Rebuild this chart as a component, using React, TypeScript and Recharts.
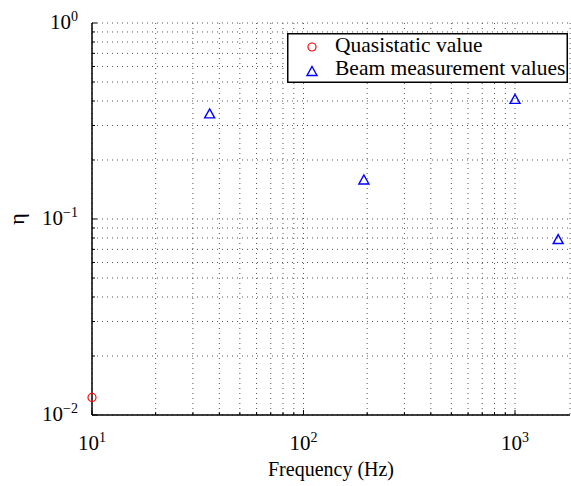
import { CartesianGrid, Legend, Scatter, ScatterChart, XAxis, YAxis } from 'recharts';

// loss factor vs. frequency
const quasiFreq = [10];
const quasiEta = [0.0123];
const beamFreq = [36, 193, 1000, 1600];
const beamEta = [0.346, 0.159, 0.41, 0.079];

const seriesNames = ['Quasistatic value', 'Beam measurement values'];

const freqTicks = [
  10, 20, 30, 40, 50, 60, 70, 80, 90,
  100, 200, 300, 400, 500, 600, 700, 800, 900, 1000,
];
const freqMajor = [10, 100, 1000];
const freqExp = ['1', '2', '3'];

const etaTicks = [
  0.01, 0.02, 0.03, 0.04, 0.05, 0.06, 0.07, 0.08, 0.09,
  0.1, 0.2, 0.3, 0.4, 0.5, 0.6, 0.7, 0.8, 0.9, 1,
];
const etaMajor = [0.01, 0.1, 1];
const etaExp = ['\u22122', '\u22121', '0'];

const FONT = '"Liberation Serif", "Times New Roman", serif';

const quasiData = quasiFreq.map((f, i) => ({ f, eta: quasiEta[i] }));
const beamData = beamFreq.map((f, i) => ({ f, eta: beamEta[i] }));

const makeXTick = (top: boolean) => (props: any) => {
  const { x, y, payload } = props;
  const i = freqMajor.indexOf(payload.value);
  const len = i >= 0 ? 5 : 3;
  return (
    <g>
      <line x1={x} x2={x} y1={y} y2={top ? y + len : y - len} stroke="#000" />
      {!top && i >= 0 && (
        <text x={x} y={y + 35} textAnchor="middle" fontFamily={FONT} fontSize={21} fill="#000">
          10
          <tspan dy={-8} fontSize={14}>
            {freqExp[i]}
          </tspan>
        </text>
      )}
    </g>
  );
};

const YTick = (props: any) => {
  const { x, y, payload } = props;
  const i = etaMajor.indexOf(payload.value);
  const len = i >= 0 ? 5 : 3;
  return (
    <g>
      <line x1={x} x2={x + len} y1={y} y2={y} stroke="#000" />
      {i >= 0 && (
        <text x={x - 14} y={y + 6} textAnchor="end" fontFamily={FONT} fontSize={21} fill="#000">
          10
          <tspan dy={-8} fontSize={14}>
            {etaExp[i]}
          </tspan>
        </text>
      )}
    </g>
  );
};

const Ring = (p: any) => (
  <circle cx={p.cx} cy={p.cy} r={4} fill="none" stroke="#ff0000" strokeWidth={1.2} />
);

const Tri = (p: any) => (
  <polygon
    points={`${p.cx},${p.cy - 4.5} ${p.cx + 5},${p.cy + 4.5} ${p.cx - 5},${p.cy + 4.5}`}
    fill="none"
    stroke="#0000ff"
    strokeWidth={1.4}
  />
);

const LegendBox = ({ payload }: any) => {
  const entries = seriesNames.map((n) => (payload || []).find((e: any) => e.value === n) || { value: n });
  return (
    <svg width={281} height={50} style={{ display: 'block' }}>
      <rect x={0.75} y={0.75} width={279.5} height={48.5} fill="#fff" stroke="#000" strokeWidth={1.5} />
      {entries.map((e: any, i: number) => (
        <g key={e.value}>
          {i === 0 ? <Ring cx={25} cy={14} /> : <Tri cx={25} cy={38} />}
          <text x={48} y={i === 0 ? 19 : 42} fontFamily={FONT} fontSize={21.5} fill="#000">
            {e.value}
          </text>
        </g>
      ))}
    </svg>
  );
};

export default function App() {
  return (
    <div style={{ position: 'absolute', left: 0, top: 0, background: '#fff' }}>
      <ScatterChart width={571} height={486} margin={{ top: 23, right: 1, bottom: 0, left: 0 }}>
        <CartesianGrid stroke="#555" strokeDasharray="1 4" />
        <XAxis
          dataKey="f"
          type="number"
          scale="log"
          domain={[10, 1820]}
          ticks={freqTicks}
          interval={0}
          tickSize={0}
          tickMargin={0}
          tickLine={false}
          height={71}
          axisLine={{ stroke: '#000', strokeWidth: 1.5 }}
          tick={makeXTick(false)}
          label={{
            value: 'Frequency (Hz)',
            position: 'insideBottom',
            offset: 10,
            style: { fontFamily: FONT, fontSize: 20, fill: '#000' },
          }}
        />
        <XAxis
          xAxisId="top"
          orientation="top"
          dataKey="f"
          type="number"
          scale="log"
          domain={[10, 1820]}
          ticks={freqTicks}
          interval={0}
          tickSize={0}
          tickMargin={0}
          tickLine={false}
          height={0}
          axisLine={{ stroke: '#000', strokeWidth: 1.5 }}
          tick={makeXTick(true)}
        />
        <YAxis
          dataKey="eta"
          type="number"
          scale="log"
          domain={[0.01, 1]}
          ticks={etaTicks}
          interval={0}
          tickSize={0}
          tickMargin={0}
          tickLine={false}
          width={92}
          axisLine={{ stroke: '#000', strokeWidth: 1.5 }}
          tick={YTick}
          label={(props: any) => {
            const vb = props.viewBox;
            const cy = vb.y + vb.height / 2;
            return (
              <text
                x={24}
                y={cy}
                transform={`rotate(-90, 24, ${cy})`}
                textAnchor="middle"
                fontFamily={FONT}
                fontSize={22}
                fill="#000"
              >
                η
              </text>
            );
          }}
        />
        <Legend
          layout="vertical"
          align="center"
          verticalAlign="middle"
          wrapperStyle={{ left: 287, top: 33, width: 281, height: 50 }}
          content={LegendBox}
        />
        <Scatter
          name={seriesNames[0]}
          data={quasiData}
          fill="#ff0000"
          shape={Ring}
          isAnimationActive={false}
        />
        <Scatter
          name={seriesNames[1]}
          data={beamData}
          fill="#0000ff"
          shape={Tri}
          isAnimationActive={false}
        />
      </ScatterChart>
    </div>
  );
}
